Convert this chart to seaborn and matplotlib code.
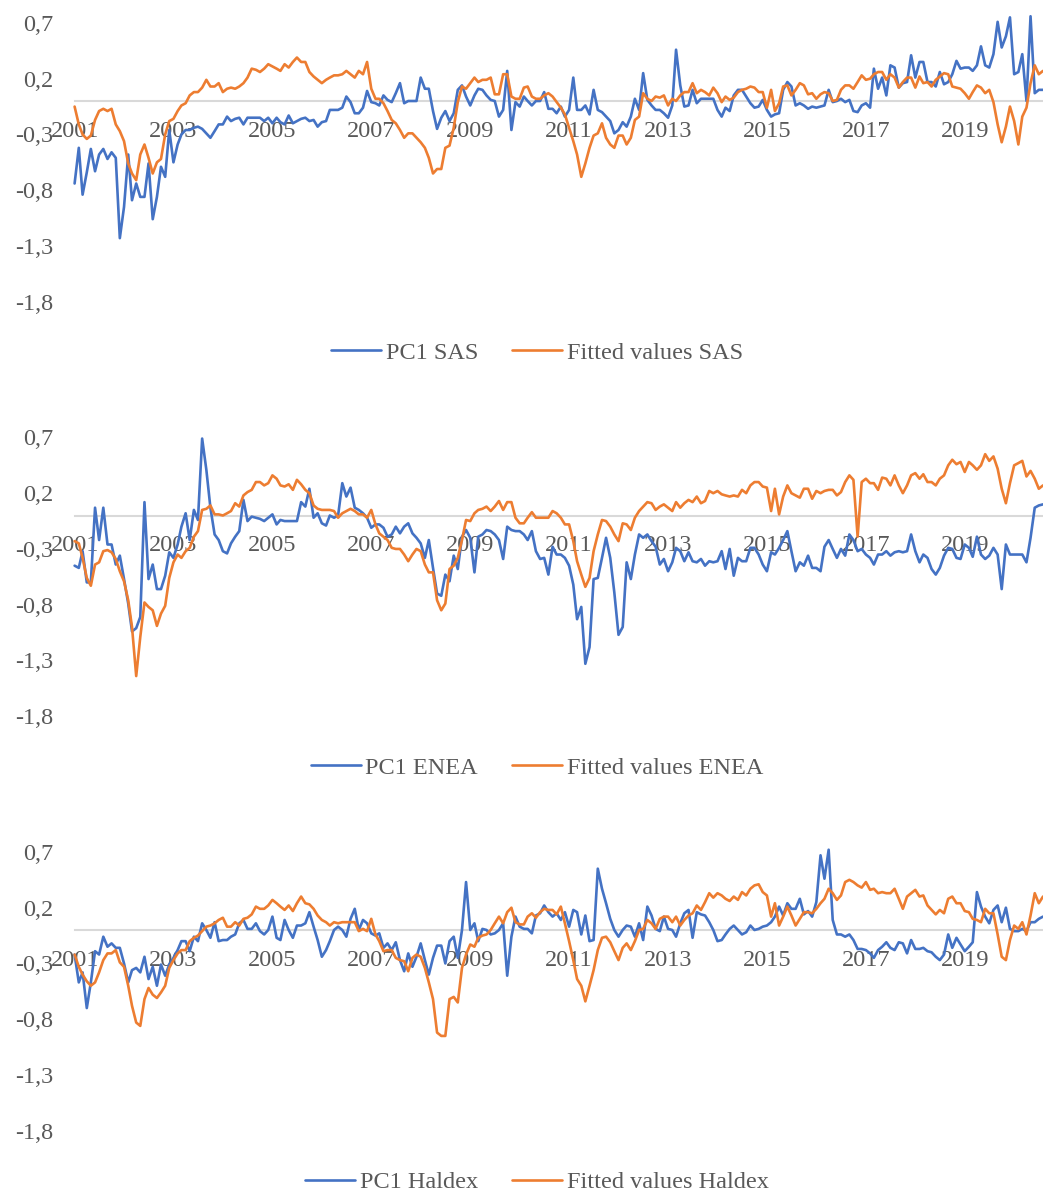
import numpy as np
import pandas as pd
import matplotlib
matplotlib.use("Agg")
import matplotlib.pyplot as plt
import seaborn as sns

# ---------------- data (monthly, Jan 2001 onwards) ----------------
pc1_sas = [
    -0.74, -0.42, -0.84, -0.64, -0.43, -0.63, -0.48, -0.43, -0.52, -0.46,
    -0.51, -1.23, -0.95, -0.48, -0.89, -0.74, -0.86, -0.86, -0.56, -1.06,
    -0.86, -0.59, -0.68, -0.26, -0.55, -0.39, -0.30, -0.26, -0.26, -0.24,
    -0.23, -0.25, -0.29, -0.33, -0.27, -0.21, -0.21, -0.14, -0.18, -0.16,
    -0.15, -0.21, -0.15, -0.15, -0.15, -0.15, -0.18, -0.15, -0.20, -0.15,
    -0.19, -0.21, -0.13, -0.20, -0.18, -0.16, -0.15, -0.18, -0.17, -0.23,
    -0.19, -0.18, -0.08, -0.08, -0.08, -0.06, 0.04, -0.01, -0.11, -0.11,
    -0.06, 0.09, -0.01, -0.02, -0.04, 0.05, 0.01, -0.01, 0.07, 0.16,
    -0.02, 0.00, 0.00, 0.00, 0.21, 0.11, 0.11, -0.09, -0.25, -0.15,
    -0.09, -0.18, -0.11, 0.10, 0.14, 0.04, -0.04, 0.05, 0.11, 0.10,
    0.05, 0.01, 0.00, -0.14, -0.08, 0.27, -0.26, -0.01, -0.05, 0.04,
    0.00, -0.04, 0.00, 0.00, 0.08, -0.07, -0.07, -0.11, -0.05, -0.14,
    -0.08, 0.21, -0.08, -0.08, -0.04, -0.12, 0.10, -0.08, -0.10, -0.14,
    -0.18, -0.29, -0.26, -0.19, -0.23, -0.14, 0.02, -0.08, 0.25, 0.01,
    -0.04, -0.08, -0.08, -0.11, -0.15, -0.04, 0.46, 0.14, -0.05, -0.04,
    0.10, -0.02, 0.02, 0.02, 0.02, 0.02, -0.08, -0.14, -0.06, -0.09,
    0.05, 0.10, 0.10, 0.04, -0.02, -0.06, -0.05, 0.01, -0.08, -0.14,
    -0.12, -0.11, 0.10, 0.17, 0.13, -0.04, -0.02, -0.04, -0.07, -0.05,
    -0.06, -0.05, -0.04, 0.10, -0.01, 0.00, 0.02, -0.01, 0.01, -0.09,
    -0.10, -0.04, -0.02, -0.06, 0.29, 0.11, 0.21, 0.05, 0.32, 0.30,
    0.12, 0.16, 0.17, 0.41, 0.21, 0.35, 0.35, 0.17, 0.17, 0.13,
    0.26, 0.15, 0.17, 0.24, 0.36, 0.29, 0.30, 0.30, 0.27, 0.32,
    0.49, 0.32, 0.30, 0.42, 0.71, 0.48, 0.58, 0.75, 0.24, 0.26,
    0.42, 0.00, 0.76, 0.07, 0.10, 0.10,
]
fit_sas = [
    -0.05, -0.21, -0.30, -0.34, -0.31, -0.17, -0.09, -0.07, -0.09, -0.07,
    -0.21, -0.27, -0.36, -0.56, -0.65, -0.71, -0.48, -0.39, -0.51, -0.65,
    -0.55, -0.52, -0.30, -0.18, -0.16, -0.09, -0.04, -0.02, 0.05, 0.08,
    0.08, 0.12, 0.19, 0.13, 0.13, 0.16, 0.08, 0.11, 0.12, 0.11,
    0.13, 0.16, 0.21, 0.29, 0.28, 0.26, 0.29, 0.33, 0.31, 0.29,
    0.27, 0.33, 0.30, 0.35, 0.39, 0.35, 0.35, 0.26, 0.22, 0.19,
    0.16, 0.19, 0.21, 0.23, 0.23, 0.24, 0.27, 0.24, 0.21, 0.27,
    0.24, 0.35, 0.11, 0.02, 0.02, -0.02, -0.09, -0.17, -0.20, -0.26,
    -0.33, -0.29, -0.29, -0.33, -0.37, -0.42, -0.51, -0.65, -0.61, -0.61,
    -0.42, -0.40, -0.24, -0.01, 0.13, 0.11, 0.16, 0.21, 0.17, 0.19,
    0.19, 0.21, 0.06, 0.06, 0.24, 0.24, 0.04, 0.02, 0.02, 0.12,
    0.13, 0.04, 0.02, 0.02, 0.05, 0.07, 0.04, -0.01, -0.06, -0.12,
    -0.24, -0.36, -0.48, -0.68, -0.56, -0.42, -0.31, -0.29, -0.20, -0.33,
    -0.39, -0.42, -0.31, -0.31, -0.39, -0.33, -0.17, -0.14, 0.07, 0.02,
    0.00, 0.04, 0.03, 0.05, -0.04, 0.02, 0.00, 0.05, 0.08, 0.08,
    0.16, 0.07, 0.10, 0.08, 0.05, 0.12, 0.07, -0.01, 0.04, 0.01,
    0.03, 0.08, 0.10, 0.11, 0.13, 0.12, 0.08, 0.08, -0.06, 0.10,
    -0.09, -0.02, 0.13, 0.14, 0.05, 0.10, 0.16, 0.14, 0.06, 0.07,
    0.02, 0.06, 0.08, 0.07, 0.00, 0.01, 0.10, 0.14, 0.14, 0.11,
    0.17, 0.23, 0.19, 0.20, 0.24, 0.26, 0.26, 0.19, 0.24, 0.21,
    0.12, 0.17, 0.21, 0.21, 0.12, 0.22, 0.16, 0.17, 0.13, 0.19,
    0.22, 0.25, 0.24, 0.13, 0.12, 0.11, 0.07, 0.02, 0.08, 0.14,
    0.12, 0.07, 0.10, -0.01, -0.21, -0.37, -0.23, -0.05, -0.18, -0.39,
    -0.14, -0.06, 0.16, 0.32, 0.24, 0.27,
]
pc1_enea = [
    -0.45, -0.47, -0.32, -0.60, -0.60, 0.07, -0.22, 0.07, -0.26, -0.26,
    -0.44, -0.36, -0.57, -0.79, -1.04, -1.01, -0.91, 0.12, -0.57, -0.44,
    -0.66, -0.66, -0.54, -0.33, -0.38, -0.26, -0.10, 0.02, -0.22, 0.05,
    -0.04, 0.69, 0.41, 0.07, -0.17, -0.22, -0.32, -0.34, -0.25, -0.19,
    -0.14, 0.14, -0.05, -0.01, -0.02, -0.03, -0.05, -0.02, 0.01, -0.08,
    -0.04, -0.05, -0.05, -0.05, -0.05, 0.12, 0.08, 0.24, -0.02, 0.02,
    -0.07, -0.09, 0.00, -0.02, 0.00, 0.29, 0.17, 0.25, 0.07, 0.05,
    0.02, -0.02, -0.11, -0.08, -0.08, -0.11, -0.19, -0.17, -0.10, -0.16,
    -0.10, -0.07, -0.16, -0.20, -0.25, -0.38, -0.22, -0.47, -0.70, -0.72,
    -0.53, -0.59, -0.36, -0.48, -0.19, -0.13, -0.20, -0.51, -0.19, -0.17,
    -0.13, -0.14, -0.17, -0.22, -0.39, -0.10, -0.13, -0.14, -0.14, -0.17,
    -0.22, -0.14, -0.32, -0.39, -0.38, -0.53, -0.28, -0.35, -0.35, -0.38,
    -0.45, -0.62, -0.93, -0.82, -1.33, -1.18, -0.57, -0.56, -0.38, -0.20,
    -0.38, -0.69, -1.07, -1.00, -0.42, -0.57, -0.35, -0.17, -0.20, -0.17,
    -0.23, -0.28, -0.44, -0.39, -0.50, -0.42, -0.29, -0.32, -0.41, -0.33,
    -0.41, -0.42, -0.39, -0.45, -0.41, -0.42, -0.41, -0.32, -0.48, -0.30,
    -0.54, -0.38, -0.41, -0.41, -0.29, -0.29, -0.35, -0.44, -0.50, -0.33,
    -0.35, -0.29, -0.22, -0.14, -0.32, -0.50, -0.42, -0.45, -0.36, -0.47,
    -0.47, -0.50, -0.28, -0.22, -0.30, -0.38, -0.30, -0.36, -0.17, -0.22,
    -0.32, -0.30, -0.35, -0.38, -0.44, -0.35, -0.35, -0.32, -0.36, -0.33,
    -0.32, -0.33, -0.32, -0.17, -0.32, -0.42, -0.35, -0.38, -0.48, -0.53,
    -0.47, -0.36, -0.29, -0.30, -0.38, -0.39, -0.26, -0.29, -0.37, -0.19,
    -0.35, -0.39, -0.36, -0.29, -0.35, -0.66, -0.26, -0.35, -0.35, -0.35,
    -0.35, -0.42, -0.20, 0.07, 0.09, 0.10,
]
fit_enea = [
    -0.23, -0.25, -0.38, -0.56, -0.63, -0.44, -0.42, -0.32, -0.31, -0.33,
    -0.39, -0.50, -0.59, -0.76, -1.00, -1.44, -1.09, -0.78, -0.82, -0.85,
    -0.99, -0.88, -0.81, -0.56, -0.42, -0.35, -0.38, -0.32, -0.29, -0.19,
    -0.14, 0.05, 0.06, 0.09, 0.01, 0.01, 0.00, 0.02, 0.04, 0.11,
    0.08, 0.18, 0.21, 0.23, 0.30, 0.30, 0.27, 0.29, 0.36, 0.33,
    0.27, 0.26, 0.28, 0.23, 0.32, 0.28, 0.23, 0.20, 0.09, 0.06,
    0.05, 0.05, 0.05, 0.04, -0.02, 0.02, 0.04, 0.06, 0.04, 0.01,
    0.01, -0.02, 0.05, -0.08, -0.16, -0.19, -0.22, -0.29, -0.30, -0.30,
    -0.35, -0.41, -0.35, -0.30, -0.32, -0.44, -0.51, -0.51, -0.76, -0.85,
    -0.79, -0.48, -0.45, -0.38, -0.22, -0.04, -0.05, 0.02, 0.05, 0.06,
    0.08, 0.04, 0.08, 0.13, 0.05, 0.12, 0.12, -0.02, -0.07, -0.07,
    -0.02, 0.03, -0.02, -0.02, -0.02, -0.02, 0.04, 0.02, -0.02, -0.08,
    -0.08, -0.23, -0.41, -0.53, -0.64, -0.56, -0.32, -0.17, -0.04, -0.05,
    -0.10, -0.17, -0.23, -0.07, -0.08, -0.13, -0.02, 0.04, 0.08, 0.12,
    0.11, 0.05, 0.08, 0.10, 0.07, 0.04, 0.12, 0.07, 0.11, 0.14,
    0.12, 0.17, 0.11, 0.13, 0.22, 0.20, 0.22, 0.19, 0.18, 0.17,
    0.18, 0.17, 0.23, 0.20, 0.27, 0.30, 0.30, 0.26, 0.25, 0.04,
    0.24, 0.01, 0.17, 0.27, 0.20, 0.18, 0.16, 0.24, 0.24, 0.15,
    0.22, 0.20, 0.22, 0.23, 0.23, 0.18, 0.21, 0.30, 0.36, 0.32,
    -0.19, 0.30, 0.33, 0.29, 0.29, 0.23, 0.34, 0.33, 0.27, 0.36,
    0.27, 0.20, 0.27, 0.36, 0.38, 0.33, 0.37, 0.30, 0.30, 0.27,
    0.33, 0.36, 0.45, 0.50, 0.46, 0.48, 0.39, 0.48, 0.45, 0.41,
    0.45, 0.55, 0.49, 0.53, 0.42, 0.24, 0.11, 0.29, 0.45, 0.47,
    0.49, 0.35, 0.40, 0.33, 0.24, 0.27,
]
pc1_haldex = [
    -0.22, -0.47, -0.38, -0.70, -0.47, -0.19, -0.22, -0.06, -0.15, -0.12,
    -0.16, -0.16, -0.30, -0.47, -0.36, -0.34, -0.38, -0.24, -0.44, -0.33,
    -0.50, -0.31, -0.41, -0.31, -0.25, -0.18, -0.10, -0.10, -0.19, -0.06,
    -0.10, 0.06, 0.00, -0.07, 0.07, -0.10, -0.09, -0.09, -0.06, -0.04,
    0.06, 0.09, 0.01, 0.01, 0.06, -0.01, -0.04, 0.00, 0.12, -0.07,
    -0.09, 0.09, 0.00, -0.07, 0.04, 0.04, 0.06, 0.16, 0.03, -0.09,
    -0.24, -0.18, -0.10, 0.00, 0.03, 0.00, -0.06, 0.10, 0.19, 0.00,
    0.09, 0.06, -0.03, -0.05, -0.03, -0.16, -0.12, -0.18, -0.11, -0.27,
    -0.37, -0.21, -0.33, -0.24, -0.12, -0.27, -0.40, -0.25, -0.14, -0.14,
    -0.30, -0.10, -0.06, -0.25, 0.00, 0.43, 0.00, 0.06, -0.10, 0.01,
    0.00, -0.04, -0.03, 0.00, 0.06, -0.41, -0.06, 0.12, 0.03, 0.01,
    0.01, -0.03, 0.13, 0.15, 0.22, 0.16, 0.12, 0.15, 0.09, 0.16,
    0.03, 0.18, 0.16, -0.04, 0.13, -0.10, -0.09, 0.55, 0.37, 0.24,
    0.10, 0.00, -0.06, 0.00, 0.04, 0.03, -0.06, 0.06, -0.09, 0.21,
    0.13, 0.01, -0.01, 0.12, 0.01, 0.00, -0.06, 0.06, 0.15, 0.18,
    -0.07, 0.16, 0.14, 0.13, 0.07, 0.00, -0.10, -0.09, -0.04, 0.01,
    0.04, 0.00, -0.04, -0.02, 0.04, 0.00, 0.01, 0.03, 0.04, 0.07,
    0.12, 0.21, 0.13, 0.24, 0.19, 0.19, 0.28, 0.14, 0.17, 0.12,
    0.25, 0.67, 0.46, 0.72, 0.09, -0.04, -0.04, -0.06, -0.04, -0.09,
    -0.17, -0.17, -0.18, -0.21, -0.25, -0.18, -0.15, -0.11, -0.16, -0.18,
    -0.11, -0.12, -0.21, -0.09, -0.17, -0.17, -0.16, -0.19, -0.20, -0.24,
    -0.27, -0.22, -0.04, -0.16, -0.07, -0.13, -0.19, -0.15, -0.11, 0.34,
    0.21, 0.12, 0.06, 0.18, 0.22, 0.07, 0.20, 0.01, -0.01, -0.01,
    0.01, -0.01, 0.07, 0.07, 0.10, 0.12,
]
fit_haldex = [
    -0.22, -0.33, -0.40, -0.46, -0.50, -0.47, -0.38, -0.27, -0.21, -0.21,
    -0.18, -0.29, -0.33, -0.50, -0.68, -0.83, -0.86, -0.62, -0.52, -0.58,
    -0.61, -0.56, -0.50, -0.34, -0.27, -0.21, -0.18, -0.18, -0.10, -0.07,
    -0.05, -0.01, 0.03, 0.04, 0.06, 0.09, 0.11, 0.03, 0.03, 0.07,
    0.04, 0.10, 0.11, 0.14, 0.21, 0.19, 0.19, 0.22, 0.27, 0.24,
    0.21, 0.18, 0.22, 0.17, 0.24, 0.30, 0.24, 0.23, 0.19, 0.13,
    0.09, 0.07, 0.04, 0.07, 0.06, 0.07, 0.07, 0.07, 0.07, -0.01,
    0.01, -0.01, 0.10, -0.04, -0.10, -0.19, -0.18, -0.18, -0.25, -0.27,
    -0.28, -0.37, -0.25, -0.22, -0.24, -0.34, -0.47, -0.62, -0.92, -0.95,
    -0.95, -0.62, -0.60, -0.65, -0.34, -0.22, -0.13, -0.15, -0.07, -0.05,
    -0.04, 0.00, 0.06, 0.12, 0.06, 0.16, 0.20, 0.07, 0.05, 0.05,
    0.12, 0.15, 0.11, 0.16, 0.19, 0.18, 0.18, 0.14, 0.21, 0.06,
    -0.10, -0.27, -0.44, -0.50, -0.64, -0.50, -0.36, -0.18, -0.07, -0.06,
    -0.11, -0.19, -0.27, -0.16, -0.12, -0.18, -0.10, 0.00, 0.01, 0.09,
    0.06, 0.01, 0.10, 0.12, 0.12, 0.07, 0.12, 0.04, 0.09, 0.13,
    0.15, 0.22, 0.18, 0.25, 0.33, 0.29, 0.33, 0.31, 0.28, 0.26,
    0.30, 0.27, 0.34, 0.31, 0.37, 0.40, 0.41, 0.34, 0.31, 0.12,
    0.24, 0.04, 0.12, 0.21, 0.13, 0.04, 0.10, 0.16, 0.16, 0.15,
    0.19, 0.24, 0.28, 0.37, 0.33, 0.27, 0.31, 0.43, 0.45, 0.43,
    0.40, 0.38, 0.43, 0.36, 0.37, 0.33, 0.34, 0.33, 0.33, 0.37,
    0.28, 0.19, 0.30, 0.33, 0.36, 0.30, 0.31, 0.22, 0.18, 0.14,
    0.18, 0.15, 0.28, 0.30, 0.24, 0.24, 0.17, 0.16, 0.10, 0.09,
    0.07, 0.19, 0.15, 0.15, -0.04, -0.24, -0.27, -0.09, 0.04, 0.01,
    0.07, -0.04, 0.13, 0.33, 0.24, 0.30,
]

panel_names = ["SAS", "ENEA", "Haldex"]
pc1_series = [pc1_sas, pc1_enea, pc1_haldex]
fit_series = [fit_sas, fit_enea, fit_haldex]
year_labels = ["2001", "2003", "2005", "2007", "2009", "2011",
               "2013", "2015", "2017", "2019"]
y_ticks = [0.7, 0.2, -0.3, -0.8, -1.3, -1.8]
y_tick_labels = ["0,7", "0,2", "-0,3", "-0,8", "-1,3", "-1,8"]

# ---------------- styling ----------------
BLUE = "#4472C4"
ORANGE = "#ED7D31"
TEXT = "#595959"
AXIS = "#D9D9D9"

sns.set_theme(style="white")
plt.rcParams["font.family"] = ["Liberation Serif", "DejaVu Serif"]

W, H = 1043, 1192
fig = plt.figure(figsize=(W / 100, H / 100), dpi=100)

dates = pd.date_range("2001-01-01", periods=len(pc1_sas), freq="MS")
FS = 17.5
panel_step = 414.5
left_px = 74.6

for k, name in enumerate(panel_names):
    top_px = 11.8 + panel_step * k
    bot_px = 301.7 + panel_step * k
    ax = fig.add_axes([left_px / W, 1 - bot_px / H,
                       1 - left_px / W, (bot_px - top_px) / H])
    df = pd.DataFrame({
        "date": np.concatenate([dates, dates]),
        "value": np.concatenate([pc1_series[k], fit_series[k]]),
        "series": [f"PC1 {name}"] * len(dates) + [f"Fitted values {name}"] * len(dates),
    })
    sns.lineplot(data=df, x="date", y="value", hue="series",
                 palette=[BLUE, ORANGE], linewidth=1.9, ax=ax,
                 legend=False, estimator=None)
    ax.set_xlim(dates[0], dates[-1])
    ax.set_ylim(-1.8, 0.8)
    ax.set_xlabel("")
    ax.set_ylabel("")
    for s in ["top", "right", "left"]:
        ax.spines[s].set_visible(False)
    ax.spines["bottom"].set_position(("data", 0))
    ax.spines["bottom"].set_color(AXIS)
    ax.spines["bottom"].set_linewidth(1.5)
    ax.spines["bottom"].set_zorder(0.5)
    xt = [pd.Timestamp(f"{y}-01-01") for y in year_labels]
    ax.set_xticks(xt)
    ax.set_xticklabels(year_labels)
    ax.set_yticks(y_ticks)
    ax.set_yticklabels(y_tick_labels)
    ax.tick_params(axis="x", direction="out", length=3.6, width=1.3,
                   color=AXIS, pad=10.5, labelsize=FS, labelcolor=TEXT)
    ax.tick_params(axis="y", length=0, pad=15.5, labelsize=FS,
                   labelcolor=TEXT)
    ax.grid(False)
    ax.patch.set_alpha(0)
    for ln in ax.get_lines():
        ln.set_clip_on(False)
    lines = ax.get_lines()[:2]
    fig.legend(lines, [f"PC1 {name}", f"Fitted values {name}"],
               loc="center", bbox_to_anchor=(537 / W, 1 - (353 + panel_step * k) / H),
               ncol=2, frameon=False, fontsize=FS, labelcolor=TEXT,
               handlelength=2.06, handletextpad=0.2, columnspacing=1.4)

fig.savefig("out.png", dpi=100, facecolor="white")
